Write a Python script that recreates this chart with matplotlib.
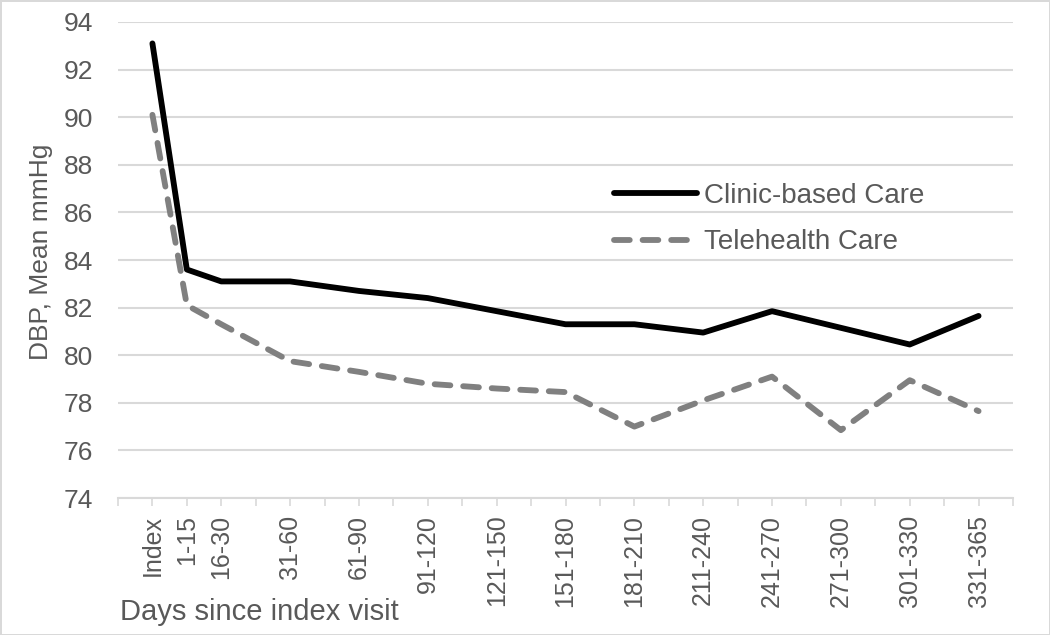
import numpy as np
import matplotlib
matplotlib.use('Agg')
from matplotlib import pyplot as plt

# category labels and their x positions (end day of each window)
periods = ['Index', '1-15', '16-30', '31-60', '61-90', '91-120', '121-150',
           '151-180', '181-210', '211-240', '241-270', '271-300', '301-330', '331-365']
period_days = [0, 15, 30, 60, 90, 120, 150, 180, 210, 240, 270, 300, 330, 360]

clinic = [93.1, 83.6, 83.1, 83.1, 82.7, 82.4, 81.85, 81.3, 81.3, 80.95, 81.85, 81.15, 80.45, 81.65]
telehealth = [90.1, 82.1, 81.3, 79.75, 79.3, 78.8, 78.6, 78.45, 77.0, 78.1, 79.1, 76.85, 78.95, 77.65]

plt.rcParams['font.family'] = ['Liberation Sans', 'DejaVu Sans']
text_color = '#595959'

fig = plt.figure(figsize=(10.5, 6.35), dpi=100)
fig.patch.set_edgecolor('#d9d9d9')
fig.patch.set_linewidth(2)
ax = fig.add_axes([118 / 1050, 1 - 498 / 635, (1013 - 118) / 1050, (498 - 22) / 635])

ax.plot(period_days, clinic, color='black', lw=4.2, solid_capstyle='round',
        solid_joinstyle='round', label='Clinic-based Care', zorder=3)
ax.plot(period_days, telehealth, color='#808080', lw=4.2, dashes=(2.7, 2.2),
        dash_capstyle='round', dash_joinstyle='round', label='Telehealth Care', zorder=3)

ax.set_xlim(-15, 375)
ax.set_ylim(74, 94)
ax.set_yticks(np.arange(74, 95, 2))
ax.tick_params(axis='y', length=0, labelsize=19, labelcolor=text_color, pad=18)

tick_pos = np.arange(-15, 376, 15)
labels = {d: p for d, p in zip(period_days, periods)}
ax.set_xticks(tick_pos)
ax.set_xticklabels([labels.get(int(t), '') for t in tick_pos], rotation=90)
ax.tick_params(axis='x', length=6, width=1.2, color='#d9d9d9', labelsize=18,
               labelcolor=text_color, pad=6)

ax.grid(axis='y', color='#d9d9d9', lw=1.5)
ax.set_axisbelow(True)
for s in ['top', 'right', 'left']:
    ax.spines[s].set_visible(False)
ax.spines['bottom'].set_color('#d9d9d9')
ax.spines['bottom'].set_linewidth(1.5)

fig.text(41 / 1050, 1 - 252 / 635, 'DBP, Mean mmHg', fontsize=19, color=text_color,
         rotation=90, ha='center', va='center')
fig.text(120 / 1050, 1 - 612 / 635, 'Days since index visit', fontsize=21,
         color=text_color, ha='left', va='center')

ax.legend(loc='center left', bbox_to_anchor=(589 / 1050, 1 - 219 / 635),
          bbox_transform=fig.transFigure, frameon=False, fontsize=20,
          handlelength=3.0, handletextpad=0.25, labelcolor=text_color, labelspacing=0.75)

fig.savefig('out.png', dpi=100)
